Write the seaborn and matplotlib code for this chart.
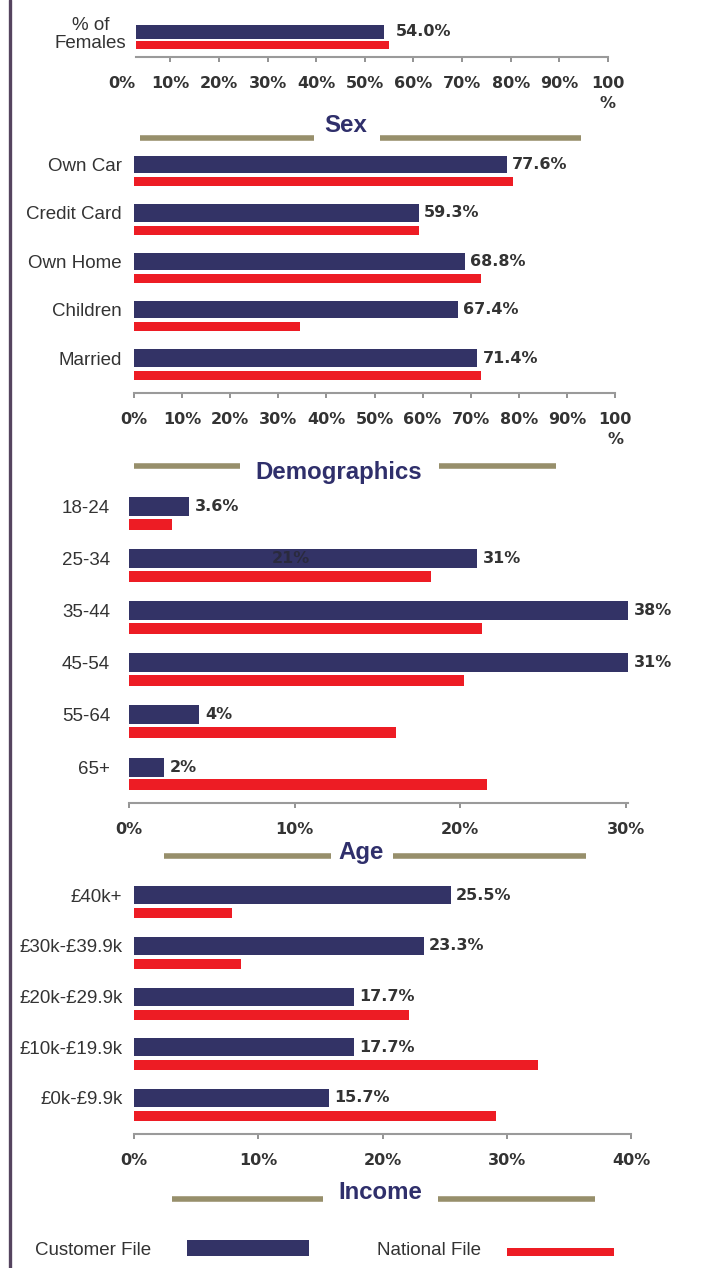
import numpy as np
import pandas as pd
import matplotlib
matplotlib.use("Agg")
import matplotlib.pyplot as plt
import seaborn as sns
from matplotlib.patches import Rectangle
from matplotlib.lines import Line2D

# ---------------- data ----------------
SERIES = ["Customer File", "National File"]

sex_cats = ["% of\nFemales"]
sex_customer = [54.0]
sex_national = [55.0]
sex_labels = ["54.0%"]

demo_cats = ["Own Car", "Credit Card", "Own Home", "Children", "Married"]
demo_customer = [77.6, 59.3, 68.8, 67.4, 71.4]
demo_national = [78.7, 59.3, 72.1, 34.6, 72.2]
demo_labels = ["77.6%", "59.3%", "68.8%", "67.4%", "71.4%"]

age_cats = ["18-24", "25-34", "35-44", "45-54", "55-64", "65+"]
age_customer = [3.6, 21.0, 38.0, 31.0, 4.2, 2.1]
age_national = [2.6, 18.2, 21.3, 20.2, 16.1, 21.6]
age_labels = ["3.6%", "31%", "38%", "31%", "4%", "2%"]
age_inner_labels = ["", "21%", "", "", "", ""]

inc_cats = ["£40k+", "£30k-£39.9k", "£20k-£29.9k", "£10k-£19.9k", "£0k-£9.9k"]
inc_customer = [25.5, 23.3, 17.7, 17.7, 15.7]
inc_national = [7.9, 8.6, 22.1, 32.5, 29.1]
inc_labels = ["25.5%", "23.3%", "17.7%", "17.7%", "15.7%"]

sex_ticks = list(range(10, 101, 10))
demo_ticks = list(range(0, 101, 10))
age_ticks = [0, 10, 20, 30]
inc_ticks = [0, 10, 20, 30, 40]

# ---------------- style ----------------
NAVY = "#333366"
RED = "#ED1C24"
KHAKI = "#978F6B"
TXT = "#333333"
TITLE_C = "#2F2F6B"
BORDER = "#55445F"
TICK_PAD = 10.0

W, H = 702, 1268
sns.set_style("white")
plt.rcParams["font.family"] = ["Liberation Sans", "DejaVu Sans"]

fig = plt.figure(figsize=(W / 100, H / 100), dpi=100)
fig.patch.set_facecolor("white")

# overlay axes in pixel coordinates for titles, separators and legend
ov = fig.add_axes([0, 0, 1, 1])
ov.set_xlim(0, W)
ov.set_ylim(H, 0)
ov.axis("off")


def px_rect(x0, x1, y0, y1):
    return [x0 / W, 1 - y1 / H, (x1 - x0) / W, (y1 - y0) / H]


def fmt_tick(t):
    return "100\n%" if t == 100 else f"{t}%"


def panel(cats, cust, nat, labels, xlim, ticks, xpx, c0, sp, top_px, axis_px,
          navy_rel, red_rel, cat_pad, gap_pt, inner=None, zero_label=False):
    ax = fig.add_axes(px_rect(xpx[0], xpx[1], top_px, axis_px))
    ax.set_facecolor("none")
    n = len(cats)
    df = pd.DataFrame({
        "category": cats * 2,
        "value": cust + nat,
        "series": [SERIES[0]] * n + [SERIES[1]] * n,
    })
    sns.barplot(data=df, x="value", y="category", hue="series", hue_order=SERIES,
                palette=[NAVY, RED], orient="h", errorbar=None, legend=False,
                saturation=1, width=0.8, linewidth=0, ax=ax)
    for cont, rel in zip(ax.containers, (navy_rel, red_rel)):
        for i, bar in enumerate(cont):
            bar.set_y(i + rel[0] / sp)
            bar.set_height((rel[1] - rel[0]) / sp)
    ax.set_xlim(*xlim)
    ax.set_ylim((axis_px - c0) / sp, (top_px - c0) / sp)
    off = (navy_rel[0] + navy_rel[1]) / 2 / sp

    ax.set_yticks(np.arange(n) + off, labels=cats)
    ax.tick_params(axis="y", length=0, pad=cat_pad, labelsize=13.5, labelcolor=TXT)
    for lab in ax.get_yticklabels():
        lab.set_multialignment("center")
        lab.set_linespacing(1.05)

    ax.set_xticks(ticks, labels=[fmt_tick(t) for t in ticks])
    ax.tick_params(axis="x", direction="out", length=3.6, width=1.2, color="#808080",
                   pad=TICK_PAD, labelsize=11.5, labelcolor=TXT, bottom=True)
    for lab in ax.get_xticklabels():
        lab.set_fontfamily("DejaVu Sans")
        lab.set_fontweight("bold")
        lab.set_linespacing(1.45)
    ax.set_xlabel("")
    ax.set_ylabel("")
    for s in ("top", "right", "left"):
        ax.spines[s].set_visible(False)
    ax.spines["bottom"].set_color("#9A9A9A")
    ax.spines["bottom"].set_linewidth(1.5)
    ax.grid(False)

    if zero_label:
        ax.annotate("0%", xy=(0, 0), xycoords=("data", "axes fraction"),
                    xytext=(0, -(3.6 + TICK_PAD)), textcoords="offset points",
                    ha="center", va="top", fontfamily="DejaVu Sans",
                    fontweight="bold", fontsize=11.5, color=TXT, annotation_clip=False)

    for i, (v, l) in enumerate(zip(cust, labels)):
        ax.annotate(l, xy=(min(v, xlim[1]), i + off), xytext=(gap_pt, 0),
                    textcoords="offset points", ha="left", va="center",
                    fontfamily="DejaVu Sans", fontweight="bold", fontsize=11.5,
                    color=TXT, annotation_clip=False)
    if inner is not None:
        for i, (v, l) in enumerate(zip(cust, inner)):
            if l:
                ax.text(v * 0.465, i + off, l, ha="center", va="center",
                        fontfamily="DejaVu Sans", fontweight="bold", fontsize=11.5,
                        color="#2A2A3E")
    return ax


# Sex panel
panel(sex_cats, sex_customer, sex_national, sex_labels, (3, 100), sex_ticks,
      (136.2, 608), 37, 48, 8, 57, (-12, 2), (4, 12), 7.2, 8.6, zero_label=True)
# Demographics panel
panel(demo_cats, demo_customer, demo_national, demo_labels, (0, 100), demo_ticks,
      (134, 615), 171.2, 48.4, 142, 393, (-15.5, 2), (6, 15), 8.6, 3.6)
# Age panel
panel(age_cats, age_customer, age_national, age_labels, (0, 30.1), age_ticks,
      (129, 627.7), 513, 52.1, 488, 803, (-16, 3), (6, 17), 13.7, 4.5,
      inner=age_inner_labels)
# Income panel
panel(inc_cats, inc_customer, inc_national, inc_labels, (0, 40), inc_ticks,
      (134, 631), 902, 50.75, 875, 1134, (-16, 2), (6, 16), 8.3, 3.6)

# left border
ov.add_line(Line2D([9.9, 9.9], [0, H], color=BORDER, lw=2.4))

# section titles with separator bars
sections = [
    ("Sex", 346, 132, 138, [(140, 314), (380, 581)]),
    ("Demographics", 339, 478.5, 466, [(134, 240), (439, 556)]),
    ("Age", 361, 859, 855.5, [(164, 331), (393, 586)]),
    ("Income", 380, 1199, 1199, [(172, 323), (438, 595)]),
]
for name, tx, ty, ly, segs in sections:
    ov.text(tx, ty, name, ha="center", va="baseline", fontsize=17.3,
            fontweight="bold", color=TITLE_C, fontfamily="Liberation Sans")
    for a, b in segs:
        ov.add_line(Line2D([a, b], [ly, ly], color=KHAKI, lw=4.0,
                           solid_capstyle="butt"))

# legend
ov.text(35, 1255, SERIES[0], ha="left", va="baseline", fontsize=13.5, color=TXT)
ov.add_patch(Rectangle((187, 1240), 122, 16, facecolor=NAVY, edgecolor="none"))
ov.text(377, 1255, SERIES[1], ha="left", va="baseline", fontsize=13.5, color=TXT)
ov.add_patch(Rectangle((507, 1248), 107, 8, facecolor=RED, edgecolor="none"))

fig.savefig("out.png", dpi=100)
